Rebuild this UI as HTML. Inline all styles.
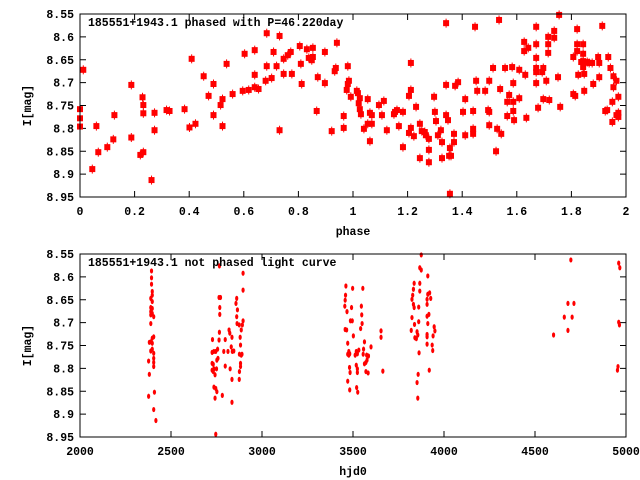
<!DOCTYPE html>
<html><head><meta charset="utf-8"><style>
body{margin:0;background:#fff}
svg{display:block}
text{font-family:"Liberation Mono",monospace;font-size:11.5px;font-weight:bold;fill:#000}
</style></head><body>
<svg id="chart" width="640" height="480" viewBox="0 0 640 480" xmlns="http://www.w3.org/2000/svg"></svg>
<script>
const topPhase=[0,0,0,0.012,0.045,0.06,0.067,0.1,0.122,0.126,0.188,0.188,0.221,0.229,0.232,0.232,0.232,0.262,0.273,0.273,0.317,0.328,0.383,0.401,0.409,0.423,0.453,0.471,0.489,0.489,0.515,0.522,0.522,0.537,0.559,0.596,0.603,0.618,0.64,0.64,0.64,0.654,0.68,0.684,0.684,0.702,0.709,0.72,0.731,0.731,0.746,0.746,0.761,0.772,0.776,0.805,0.809,0.812,0.831,0.838,0.849,0.853,0.853,0.867,0.871,0.897,0.897,0.922,0.933,0.937,0.941,0.966,0.966,0.977,0.981,0.981,0.985,0.992,
1.014,1.018,1.021,1.025,1.025,1.029,1.04,1.054,1.054,1.062,1.062,1.069,1.069,1.095,1.106,1.113,1.124,1.15,1.154,1.161,1.168,1.183,1.183,1.205,1.205,1.212,1.212,1.212,1.223,1.231,1.245,1.245,1.252,1.263,1.267,1.278,1.278,1.278,1.297,1.3,1.304,1.311,1.322,1.326,1.326,1.341,1.341,1.341,1.348,1.352,1.355,1.355,1.359,1.37,1.37,1.374,1.385,1.403,1.411,1.411,1.44,1.44,1.44,1.447,1.451,1.455,1.484,1.495,1.499,1.499,1.499,1.513,1.524,1.528,1.535,1.539,1.543,1.557,1.565,1.565,1.572,1.583,1.587,1.587,1.587,1.59,1.609,1.609,1.627,1.627,1.631,1.635,1.642,1.671,1.671,1.671,1.671,1.671,1.671,1.678,1.693,1.697,1.697,1.708,1.715,1.715,1.715,1.719,1.737,1.737,1.751,1.755,1.759,1.807,1.807,1.814,1.821,1.821,1.821,1.825,1.836,1.843,1.843,1.843,1.843,1.847,1.847,1.858,1.865,1.876,1.88,1.898,1.902,1.902,1.913,1.924,1.931,1.935,1.943,1.95,1.95,1.954,1.954,1.965,1.965,1.972,1.972,1.972];
const topMag=[8.758,8.778,8.796,8.672,8.889,8.795,8.852,8.841,8.824,8.771,8.705,8.82,8.858,8.732,8.749,8.767,8.852,8.913,8.766,8.804,8.76,8.762,8.758,8.798,8.648,8.79,8.686,8.729,8.771,8.703,8.749,8.736,8.795,8.659,8.725,8.718,8.637,8.716,8.629,8.683,8.71,8.714,8.696,8.664,8.592,8.69,8.633,8.664,8.598,8.804,8.648,8.681,8.64,8.633,8.681,8.62,8.659,8.703,8.627,8.646,8.651,8.624,8.644,8.762,8.688,8.701,8.633,8.806,8.675,8.668,8.613,8.773,8.799,8.716,8.664,8.703,8.696,8.731,
8.718,8.723,8.745,8.734,8.758,8.769,8.801,8.736,8.79,8.766,8.828,8.771,8.79,8.749,8.771,8.74,8.804,8.769,8.764,8.76,8.795,8.764,8.841,8.729,8.81,8.657,8.716,8.799,8.817,8.753,8.79,8.865,8.806,8.808,8.815,8.823,8.847,8.874,8.731,8.764,8.784,8.815,8.804,8.83,8.865,8.57,8.705,8.771,8.782,8.86,8.843,8.943,8.86,8.812,8.83,8.707,8.699,8.764,8.736,8.815,8.762,8.801,8.812,8.578,8.696,8.718,8.718,8.76,8.696,8.764,8.793,8.668,8.85,8.801,8.563,8.714,8.812,8.668,8.742,8.773,8.727,8.666,8.701,8.742,8.762,8.782,8.672,8.734,8.611,8.631,8.683,8.777,8.624,8.578,8.616,8.646,8.668,8.677,8.701,8.755,8.677,8.668,8.736,8.696,8.6,8.616,8.635,8.738,8.587,8.602,8.688,8.552,8.753,8.644,8.725,8.729,8.583,8.616,8.631,8.683,8.655,8.616,8.637,8.653,8.666,8.681,8.718,8.655,8.657,8.657,8.703,8.644,8.657,8.688,8.576,8.762,8.76,8.644,8.668,8.742,8.786,8.686,8.71,8.696,8.771,8.731,8.766,8.775];
const botHjd=[
2393,2393,2393,2397,2397,2389,2397,2389,2397,2389,2397,2389,2405,2389,2405,2397,2389,2381,2397,2397,2389,2405,2405,2405,2405,2377,2381,2377,2409,2405,2417,
2766,2728,2726,2736,2746,2756,2726,2732,2736,2726,2732,2742,2750,2758,2752,2766,2764,2768,2768,2764,2772,2736,2746,2752,2742,2782,2746,2790,2798,2798,2813,2819,2823,2825,2831,2835,2837,2845,2835,2835,2857,2861,2865,2861,2863,2875,2880,2882,2876,2886,2890,2882,2882,2876,2875,2886,2892,2896,2896,2896,
3461,3459,3457,3455,3467,3457,3465,3492,3498,3554,3546,3548,3550,3542,3486,3496,3502,3471,3477,3471,3477,3482,3481,3484,3471,3482,3512,3518,3524,3532,3518,3524,3524,3520,3526,3558,3556,3563,3563,3571,3575,3577,3585,3571,3583,3599,3654,3654,3664,
3875,3867,3875,3867,3867,3836,3832,3828,3824,3832,3836,3861,3824,3838,3820,3840,3848,3852,3861,3856,3863,3858,3852,3856,3911,3921,3927,3911,3907,3907,3917,3907,3911,3907,3907,3907,3935,3938,3946,3950,3940,3919,
4602,4661,4681,4681,4697,4704,4714,
4960,4966,4960,4964,4953,4956];
const botMag=[
8.587,8.602,8.616,8.632,8.64,8.647,8.654,8.667,8.669,8.676,8.68,8.683,8.687,8.702,8.731,8.734,8.742,8.743,8.745,8.758,8.762,8.767,8.778,8.787,8.796,8.784,8.813,8.861,8.852,8.89,8.914,
8.576,8.737,8.765,8.763,8.763,8.758,8.789,8.791,8.801,8.804,8.807,8.814,8.801,8.778,8.782,8.721,8.738,8.682,8.667,8.645,8.645,8.841,8.844,8.851,8.865,8.859,8.944,8.763,8.737,8.795,8.763,8.716,8.723,8.801,8.753,8.732,8.763,8.762,8.824,8.874,8.658,8.647,8.672,8.687,8.702,8.705,8.732,8.749,8.769,8.771,8.769,8.789,8.796,8.807,8.824,8.716,8.705,8.696,8.629,8.592,
8.62,8.64,8.651,8.664,8.676,8.715,8.716,8.667,8.625,8.625,8.664,8.683,8.702,8.713,8.696,8.696,8.729,8.745,8.763,8.769,8.771,8.768,8.798,8.809,8.828,8.847,8.771,8.763,8.768,8.76,8.793,8.801,8.809,8.842,8.852,8.758,8.769,8.742,8.79,8.787,8.771,8.782,8.773,8.807,8.81,8.753,8.718,8.732,8.806,
8.552,8.58,8.585,8.614,8.631,8.614,8.627,8.64,8.649,8.66,8.667,8.666,8.689,8.704,8.717,8.733,8.735,8.72,8.698,8.727,8.766,8.813,8.831,8.865,8.598,8.635,8.647,8.638,8.649,8.66,8.682,8.686,8.702,8.726,8.731,8.747,8.749,8.761,8.709,8.718,8.729,8.804,
8.727,8.688,8.658,8.717,8.563,8.688,8.658,
8.57,8.58,8.699,8.705,8.804,8.796];
const magTicks=["8.55","8.6","8.65","8.7","8.75","8.8","8.85","8.9","8.95"];
const phaseTicks=["0","0.2","0.4","0.6","0.8","1","1.2","1.4","1.6","1.8","2"];
const hjdTicks=["2000","2500","3000","3500","4000","4500","5000"];

const NS='http://www.w3.org/2000/svg';
const svg=document.getElementById('chart');
function mk(tag,attrs,parent){const e=document.createElementNS(NS,tag);for(const k in attrs)e.setAttribute(k,attrs[k]);(parent||svg).appendChild(e);return e;}
const L=80,R=626;
function panel(top,bottom,xmin,xmax,xt,xs,yName,title,xlabel,pre){
  const g=mk('g',{});
  
  
  const sx=v=>L+(v-xmin)/(xmax-xmin)*(R-L);
  const sy=v=>top+(v-8.55)/0.4*(bottom-top);
  const ax=mk('g',{},g);
  
  
  magTicks.forEach(t=>{const y=sy(parseFloat(t));
    mk('line',{x1:L,x2:L+6,y1:y,y2:y,stroke:'#000'},ax);
    mk('line',{x1:R,x2:R-6,y1:y,y2:y,stroke:'#000'},ax);
    const tx=mk('text',{x:L-6,y:y+4,'text-anchor':'end'},ax);tx.textContent=t;
    
    
  });
  xt.forEach(t=>{const x=sx(parseFloat(t));
    mk('line',{x1:x,x2:x,y1:bottom,y2:bottom-6,stroke:'#000'},ax);
    mk('line',{x1:x,x2:x,y1:top,y2:top+6,stroke:'#000'},ax);
    const tx=mk('text',{x:x,y:bottom+18,'text-anchor':'middle'},ax);tx.textContent=t;
    
    
  });
  const marks=mk('g',{fill:'#f00',stroke:'#f00'},g);
  
  
  const n=Math.min(xs.x.length,xs.y.length);
  for(let i=0;i<n;i++){const x=sx(xs.x[i]),y=sy(xs.y[i]);
    let p;
    if(xs.big){p=mk('rect',{x:x-3,y:y-3,width:6,height:6,'stroke-width':0},marks);
      mk('line',{x1:x,x2:x,y1:y-4.5,y2:y+4.5,'stroke-width':1},marks);}
    else{p=mk('ellipse',{cx:x,cy:y,rx:1.6,ry:2.6,'stroke-width':0},marks);}
    
    
  }
  const fr=mk('rect',{x:L,y:top,width:R-L,height:bottom-top,fill:'none',stroke:'#000','stroke-width':1},g);
  
  
  const ti=mk('text',{x:88,y:top+12},g);ti.textContent=title;
  
  
  const xl=mk('text',{x:(L+R)/2,y:bottom+38,'text-anchor':'middle'},g);xl.textContent=xlabel;
  
  
  const cy=(top+bottom)/2;
  const yl=mk('text',{x:31,y:cy,'text-anchor':'middle',transform:'rotate(-90 31 '+cy+')'},g);yl.textContent=yName;
  
  
}
panel(14,197,0,2,phaseTicks,{x:topPhase,y:topMag,big:true},'I[mag]','185551+1943.1 phased with P=46.220day','phase','phased');
panel(254,437,2000,5000,hjdTicks,{x:botHjd,y:botMag,big:false},'I[mag]','185551+1943.1 not phased light curve','hjd0','unphased');
</script>
</body></html>
